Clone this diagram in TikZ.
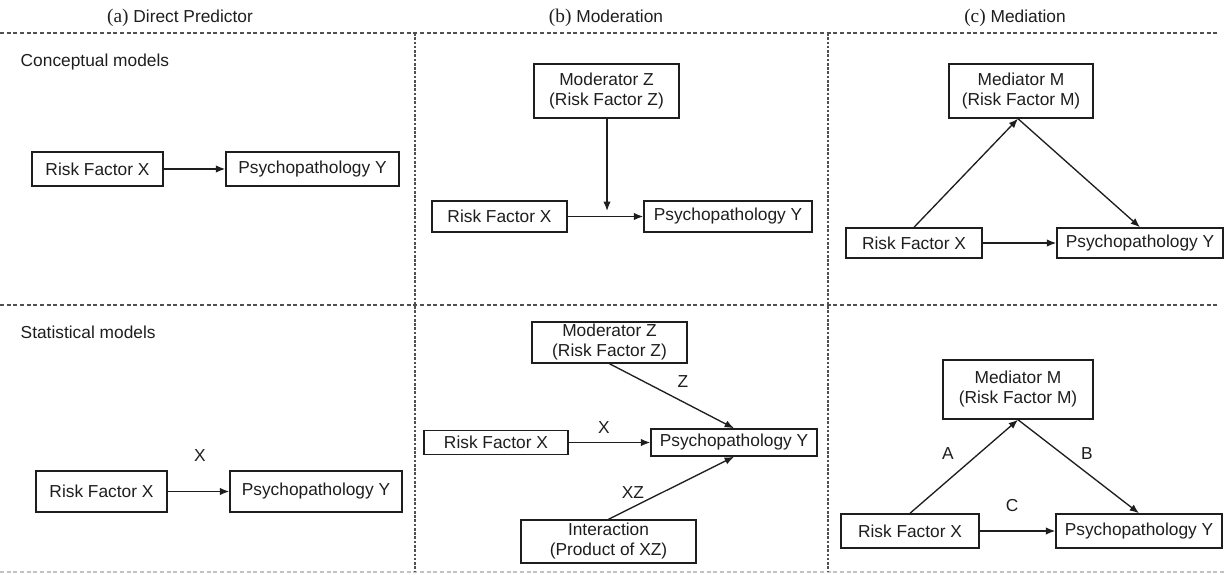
\documentclass[tikz,border=0pt]{standalone}
\usepackage{fontspec}
\setmainfont{Liberation Sans}
\newfontfamily\serifhead{Liberation Serif}
\usetikzlibrary{arrows.meta,positioning}
\definecolor{inkgray}{RGB}{30,30,30}
\definecolor{rulegray}{RGB}{80,80,80}

\begin{document}
\begin{tikzpicture}[
    x=0.75pt, y=-0.75pt,
    every node/.style={font=\fontsize{13}{15}\selectfont, text=inkgray},
    box/.style={rectangle, draw=inkgray, line width=1.1pt, inner sep=0pt, align=center},
    arrow/.style={-{Latex[length=7pt,width=5.5pt]}, line width=1pt, draw=inkgray},
    panelrule/.style={draw=rulegray, line width=0.8pt, dash pattern=on 3pt off 2pt},
    colrule/.style={draw=rulegray, line width=1pt, dash pattern=on 2pt off 1.2pt},
    lbl/.style={inner sep=1pt},
]
\useasboundingbox (0,0) rectangle (1226,574);

% Column headings
\node (head_a) at (180, 18) {{\serifhead\fontsize{14.5}{16}\selectfont (a)} Direct Predictor};
\node (head_b) at (606, 18) {{\serifhead\fontsize{14.5}{16}\selectfont (b)} Moderation};
\node (head_c) at (1015, 18) {{\serifhead\fontsize{14.5}{16}\selectfont (c)} Mediation};

% Grid lines
\draw[panelrule] (0, 33) -- (1218, 33);
\draw[panelrule] (0, 305) -- (1218, 305);
\draw[panelrule, draw=rulegray!35] (0, 572) -- (1226, 572);
\draw[colrule] (415, 33) -- (415, 572);
\draw[colrule] (828, 33) -- (828, 572);

% Row headings
\node[anchor=west] (row_concept) at (16, 62) {Conceptual models};
\node[anchor=west] (row_stat) at (16, 332) {Statistical models};

% --- (a) conceptual ---
\node[box, minimum width=131*0.75pt, minimum height=34*0.75pt] (a_x1) at (97.5, 169) {Risk Factor X};
\node[box, minimum width=173*0.75pt, minimum height=34*0.75pt] (a_y1) at (312.5, 169) {Psychopathology Y};
\draw[arrow] (a_x1) -- (a_y1);

% --- (a) statistical ---
\node[box, minimum width=131*0.75pt, minimum height=41*0.75pt] (a_x2) at (101.5, 491.5) {Risk Factor X};
\node[box, minimum width=172*0.75pt, minimum height=41*0.75pt] (a_y2) at (316, 491.5) {Psychopathology Y};
\draw[arrow] (a_x2) -- (a_y2);
\node[lbl] (a_lx) at (200, 456) {X};

% --- (b) conceptual ---
\node[box, minimum width=145*0.75pt, minimum height=54*0.75pt] (b_z1) at (606.5, 91) {Moderator Z\\(Risk Factor Z)};
\node[box, minimum width=135*0.75pt, minimum height=31*0.75pt] (b_x1) at (499.5, 216.5) {Risk Factor X};
\node[box, minimum width=168*0.75pt, minimum height=31*0.75pt] (b_y1) at (728, 216.5) {Psychopathology Y};
\draw[arrow] (b_x1) -- (b_y1);
\coordinate (b_hit) at (607, 211);
\draw[arrow] (b_z1.south -| b_hit) -- (b_hit);

% --- (b) statistical ---
\node[box, minimum width=155*0.75pt, minimum height=41*0.75pt] (b_z2) at (609.5, 342.5) {Moderator Z\\(Risk Factor Z)};
\node[box, minimum width=144*0.75pt, minimum height=24*0.75pt] (b_x2) at (496, 442.5) {Risk Factor X};
\node[box, minimum width=166*0.75pt, minimum height=27*0.75pt] (b_y2) at (734, 442.5) {Psychopathology Y};
\node[box, minimum width=175*0.75pt, minimum height=43*0.75pt] (b_xz) at (608.5, 541.5) {Interaction\\(Product of XZ)};
\draw[arrow] (b_z2.south) -- (b_y2.north);
\draw[arrow] (b_x2) -- (b_y2);
\draw[arrow] (b_xz.north) -- (b_y2.south);
\node[lbl] (b_lz) at (683, 382) {Z};
\node[lbl] (b_lx) at (604, 428) {X};
\node[lbl] (b_lxz) at (633, 493) {XZ};

% --- (c) conceptual ---
\node[box, minimum width=144*0.75pt, minimum height=54*0.75pt] (c_m1) at (1021, 91) {Mediator M\\(Risk Factor M)};
\node[box, minimum width=136*0.75pt, minimum height=30*0.75pt] (c_x1) at (914, 243) {Risk Factor X};
\node[box, minimum width=166*0.75pt, minimum height=30*0.75pt] (c_y1) at (1140, 243) {Psychopathology Y};
\draw[arrow] (c_x1.north) -- ([xshift=-2.25pt]c_m1.south);
\draw[arrow] ([xshift=-2.25pt]c_m1.south) -- (c_y1.north);
\draw[arrow] (c_x1) -- (c_y1);

% --- (c) statistical ---
\node[box, minimum width=150*0.75pt, minimum height=59*0.75pt] (c_m2) at (1018, 389.5) {Mediator M\\(Risk Factor M)};
\node[box, minimum width=138*0.75pt, minimum height=34*0.75pt] (c_x2) at (910, 531) {Risk Factor X};
\node[box, minimum width=166*0.75pt, minimum height=34*0.75pt] (c_y2) at (1139, 531) {Psychopathology Y};
\draw[arrow] (c_x2.north) -- (c_m2.south);
\draw[arrow] (c_m2.south) -- (c_y2.north);
\draw[arrow] (c_x2) -- (c_y2);
\node[lbl] (c_la) at (948, 454) {A};
\node[lbl] (c_lb) at (1087, 454) {B};
\node[lbl] (c_lc) at (1012, 506) {C};

\end{tikzpicture}
\end{document}
